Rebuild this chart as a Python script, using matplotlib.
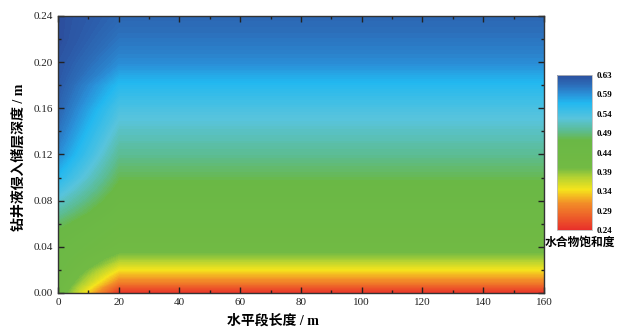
import numpy as np
import matplotlib
matplotlib.use("Agg")
import matplotlib.pyplot as plt
from matplotlib.colors import LinearSegmentedColormap
from matplotlib.ticker import MultipleLocator, FormatStrFormatter

plt.rcParams['font.family'] = ['Liberation Serif', 'Noto Sans CJK SC']

# grid nodes: horizontal distance (m) and invaded depth (m)
x_nodes = [0, 20, 40, 60, 80, 100, 120, 140, 160]
depth = [0.0, 0.005, 0.01, 0.015, 0.02, 0.03, 0.04, 0.05, 0.06, 0.07, 0.08,
         0.09, 0.10, 0.11, 0.12, 0.13, 0.14, 0.16, 0.18, 0.20, 0.22, 0.24]
# hydrate saturation profile at the wellbore end (x = 0)
sat_edge = [0.42, 0.425, 0.43, 0.435, 0.44, 0.445, 0.45, 0.46, 0.475, 0.495, 0.515,
            0.535, 0.555, 0.57, 0.585, 0.593, 0.60, 0.612, 0.62, 0.625, 0.63, 0.63]
# profile along the rest of the horizontal section (x >= 20)
sat_far = [0.24, 0.27, 0.30, 0.32, 0.34, 0.38, 0.41, 0.42, 0.43, 0.44, 0.45,
           0.46, 0.47, 0.48, 0.49, 0.50, 0.51, 0.53, 0.555, 0.585, 0.60, 0.61]

cbar_ticks = [0.24, 0.29, 0.34, 0.39, 0.44, 0.49, 0.54, 0.59, 0.63]

cmap = LinearSegmentedColormap.from_list("sat", [
    (0.00, "#e8302a"), (0.17, "#f28c28"), (0.26, "#f5e41c"),
    (0.34, "#b4d232"), (0.40, "#72ba44"), (0.58, "#6ab845"),
    (0.64, "#5cbc90"), (0.72, "#58c4dc"), (0.82, "#22b8f0"),
    (0.88, "#2a90d8"), (0.94, "#2c6cb8"), (1.00, "#2c4f9e")])

X, Y = np.meshgrid(x_nodes, depth)
Z = np.column_stack([sat_edge] + [sat_far] * (len(x_nodes) - 1))

fig = plt.figure(figsize=(6.22, 3.32), dpi=100)
ax = fig.add_axes([0.0932, 0.1175, 0.7814, 0.8345])
ax.contourf(X, Y, Z, levels=np.linspace(0.24, 0.63, 160), cmap=cmap,
            vmin=0.24, vmax=0.63, extend='both')

ax.set_xlim(0, 160)
ax.set_ylim(0, 0.24)
ax.xaxis.set_major_locator(MultipleLocator(20))
ax.xaxis.set_minor_locator(MultipleLocator(10))
ax.yaxis.set_major_locator(MultipleLocator(0.04))
ax.yaxis.set_minor_locator(MultipleLocator(0.02))
ax.yaxis.set_major_formatter(FormatStrFormatter('%.2f'))
ax.tick_params(which='both', direction='in', top=True, right=True,
               labelsize=8, width=1, colors='#222222')
ax.tick_params(which='major', length=4)
ax.tick_params(which='minor', length=2.5)
for sp in ax.spines.values():
    sp.set_linewidth(1.0)
    sp.set_color('#333333')

ax.set_xlabel('水平段长度 / m', fontsize=10, fontweight='bold')
ax.xaxis.set_label_coords(0.442, -0.078)
ax.set_ylabel('钻井液侵入储层深度 / m', fontsize=10, fontweight='bold')
ax.yaxis.set_label_coords(-0.066, 0.49)

cax = fig.add_axes([0.8955, 0.307, 0.0563, 0.467])
sm = plt.cm.ScalarMappable(cmap=cmap, norm=plt.Normalize(0.24, 0.63))
cb = fig.colorbar(sm, cax=cax)
cb.set_ticks(np.linspace(0.24, 0.63, len(cbar_ticks)))
cb.set_ticklabels(['%.2f' % t for t in cbar_ticks])
cb.ax.tick_params(length=0, labelsize=6.5, pad=3)
for lbl in cb.ax.get_yticklabels():
    lbl.set_fontweight('bold')
cb.outline.set_edgecolor('#bbbbbb')
cb.outline.set_linewidth(0.6)
fig.text(0.933, 0.268, '水合物饱和度', ha='center', va='center',
         fontsize=8.5, fontweight='bold')

fig.savefig('out.png', dpi=100)
